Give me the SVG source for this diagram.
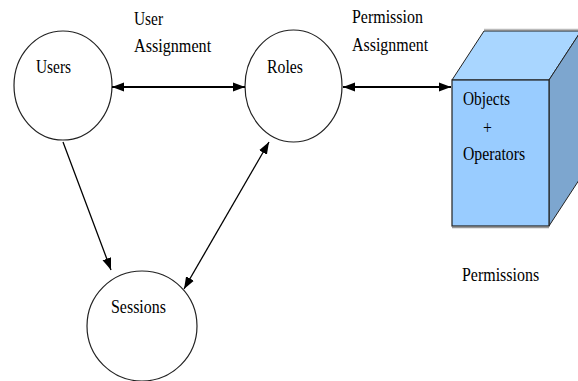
<svg xmlns="http://www.w3.org/2000/svg" width="578" height="381" viewBox="0 0 578 381">
<defs>
<marker id="ah" markerUnits="userSpaceOnUse" markerWidth="13" markerHeight="10" refX="12" refY="5" orient="auto-start-reverse">
<path d="M0,0.5 L12,5 L0,9.5 z" fill="#000"/>
</marker>
</defs>
<style>
.node{fill:#fff;stroke:#222;stroke-width:1.2}
.conn{stroke:#000;fill:none}
</style>
<rect width="578" height="381" fill="#fff"/>
<g id="users">
<ellipse class="node" cx="63" cy="85.5" rx="49" ry="54.5"/>
<text font-family="Liberation Serif" font-size="19" transform="translate(36,73) scale(0.81,1)">Users</text>
</g>
<g id="roles">
<ellipse class="node" cx="293.5" cy="86" rx="48.5" ry="56"/>
<text font-family="Liberation Serif" font-size="19" transform="translate(267,73) scale(0.83,1)">Roles</text>
</g>
<g id="sessions">
<ellipse class="node" cx="142" cy="326" rx="55" ry="55"/>
<text font-family="Liberation Serif" font-size="19" transform="translate(111,313) scale(0.84,1)">Sessions</text>
</g>
<g id="permissions">
<line x1="452" y1="227.5" x2="549" y2="227.5" stroke="#999" stroke-width="1.5"/>
<line x1="484" y1="29.5" x2="580" y2="29.5" stroke="#bbb" stroke-width="1.5"/>
<polygon points="452,80 484,31 581,31 549,80" fill="#A9D6FF" stroke="#222" stroke-width="1"/>
<polygon points="549,80 581,31 581,177 549,226" fill="#7DA6CF" stroke="#222" stroke-width="1"/>
<rect x="452" y="80" width="97" height="146" fill="#99CCFF" stroke="#222" stroke-width="1.2"/>
<text font-family="Liberation Serif" font-size="19" transform="translate(463,105) scale(0.81,1)">Objects</text>
<text font-family="Liberation Serif" font-size="19" transform="translate(483,134) scale(0.83,1)">+</text>
<text font-family="Liberation Serif" font-size="19" transform="translate(463,160) scale(0.83,1)">Operators</text>
<text font-family="Liberation Serif" font-size="19" transform="translate(462,281) scale(0.84,1)">Permissions</text>
</g>
<g id="connectors">
<line class="conn" x1="112" y1="87" x2="245" y2="87" stroke-width="1.8" marker-start="url(#ah)" marker-end="url(#ah)"/>
<line class="conn" x1="343" y1="87" x2="451" y2="87" stroke-width="1.8" marker-start="url(#ah)" marker-end="url(#ah)"/>
<line class="conn" x1="63" y1="142" x2="111" y2="270" stroke-width="1.3" marker-end="url(#ah)"/>
<line class="conn" x1="269" y1="142" x2="184" y2="289" stroke-width="1.3" marker-start="url(#ah)" marker-end="url(#ah)"/>
</g>
<g id="labels">
<text font-family="Liberation Serif" font-size="19" transform="translate(134,25) scale(0.81,1)">User</text>
<text font-family="Liberation Serif" font-size="19" transform="translate(134,52) scale(0.85,1)">Assignment</text>
<text font-family="Liberation Serif" font-size="19" transform="translate(352,23) scale(0.84,1)">Permission</text>
<text font-family="Liberation Serif" font-size="19" transform="translate(352,51) scale(0.84,1)">Assignment</text>
</g>
</svg>
